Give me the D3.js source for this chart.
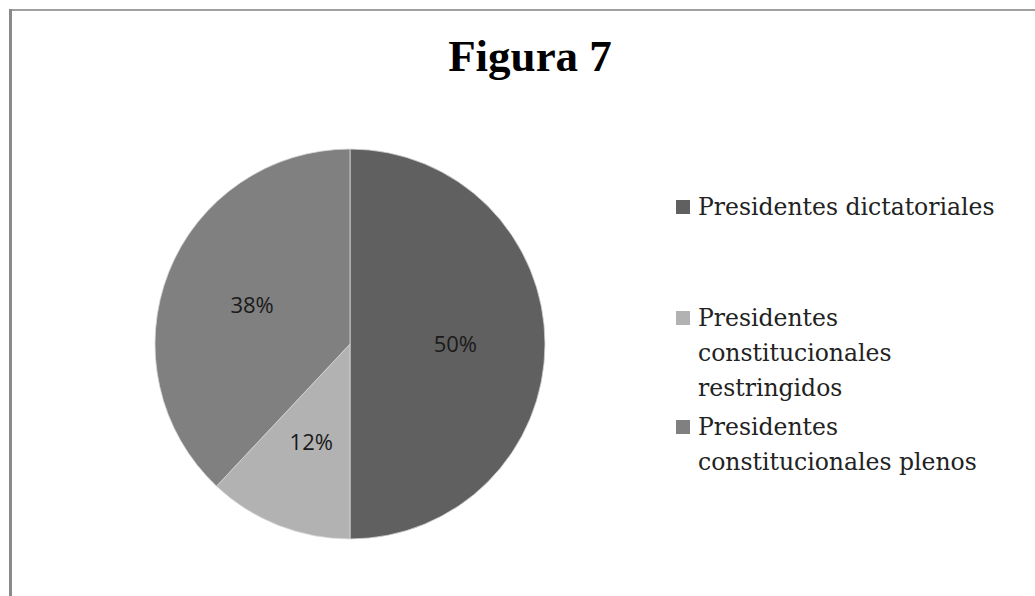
<!DOCTYPE html>
<html>
<head>
<meta charset="utf-8">
<script src="https://cdn.jsdelivr.net/npm/d3@7"></script>
<style>
  body { margin: 0; background: #fff; }
</style>
</head>
<body>
<div id="chart"></div>
<script>
    // datos del grafico
    var categorias = ["Presidentes dictatoriales", "Presidentes constitucionales restringidos", "Presidentes constitucionales plenos"];
    var valores = [50, 12, 38];
    var colores = ["#606060", "#b2b2b2", "#808080"];

    var width = 1035, height = 596;

    var svg = d3.select("#chart")
      .append("svg")
        .attr("width", width)
        .attr("height", height);

    // marco del area del grafico
    svg.append("line")
        .attr("x1", 10).attr("x2", width).attr("y1", 10).attr("y2", 10)
        .attr("stroke", "#a0a0a0").attr("stroke-width", 2);
    svg.append("line")
        .attr("x1", 10.5).attr("x2", 10.5).attr("y1", 9).attr("y2", height)
        .attr("stroke", "#8a8a8a").attr("stroke-width", 3);

    // titulo
    svg.append("text")
        .attr("x", 530)
        .attr("y", 71)
        .style("text-anchor", "middle")
        .style("font-family", "'Liberation Serif', 'Times New Roman', serif")
        .style("font-weight", "bold")
        .style("font-size", "45px")
        .style("fill", "#000")
        .text("Figura 7");

    // pastel
    var cx = 350, cy = 344, radio = 195;
    var color = d3.scaleOrdinal().domain(categorias).range(colores);

    var pie = d3.pie().sort(null).value(function(d, i) { return valores[i]; });
    var arcos = pie(categorias);

    var arc = d3.arc().innerRadius(0).outerRadius(radio);
    var arcEtiqueta = d3.arc().innerRadius(radio * 0.54).outerRadius(radio * 0.54);

    var g = svg.append("g")
        .attr("transform", "translate(" + cx + "," + cy + ")");

    g.selectAll("path")
      .data(arcos)
      .enter()
      .append("path")
        .attr("d", arc)
        .style("fill", function(d) { return color(d.data); })
        .style("stroke", "#d8d8d8")
        .style("stroke-width", 0.8);

    g.selectAll("text")
      .data(arcos)
      .enter()
      .append("text")
        .attr("transform", function(d) { return "translate(" + arcEtiqueta.centroid(d) + ")"; })
        .attr("dy", "0.35em")
        .style("text-anchor", "middle")
        .style("font-family", "'Open Sans', 'Liberation Sans', sans-serif")
        .style("font-size", "22px")
        .style("fill", "#1a1a1a")
        .text(function(d) { return valores[d.index] + "%"; });

    // leyenda
    var leyX = 676, textoX = 698, anchoMax = 300, interlinea = 35;
    var leyTops = [207, 318, 427];

    var leyenda = svg.append("g");
    categorias.forEach(function(c, i) {
      var item = leyenda.append("g").attr("transform", "translate(0," + leyTops[i] + ")");
      item.append("rect")
          .attr("x", leyX).attr("y", -7)
          .attr("width", 14).attr("height", 14)
          .style("fill", color(c));

      var txt = item.append("text")
          .attr("x", textoX)
          .attr("y", 0)
          .style("font-family", "'DejaVu Serif', serif")
          .style("font-size", "23.5px")
          .style("fill", "#222");

      // partimos el texto en lineas
      var palabras = c.split(" ");
      var linea = [], n = 0;
      var tspan = txt.append("tspan").attr("x", textoX).attr("dy", "0.35em");
      palabras.forEach(function(p) {
        linea.push(p);
        tspan.text(linea.join(" "));
        if (tspan.node().getComputedTextLength() > anchoMax && linea.length > 1) {
          linea.pop();
          tspan.text(linea.join(" "));
          linea = [p];
          n++;
          tspan = txt.append("tspan").attr("x", textoX).attr("y", n * interlinea).attr("dy", "0.35em").text(p);
        }
      });
    });
</script>
</body>
</html>
